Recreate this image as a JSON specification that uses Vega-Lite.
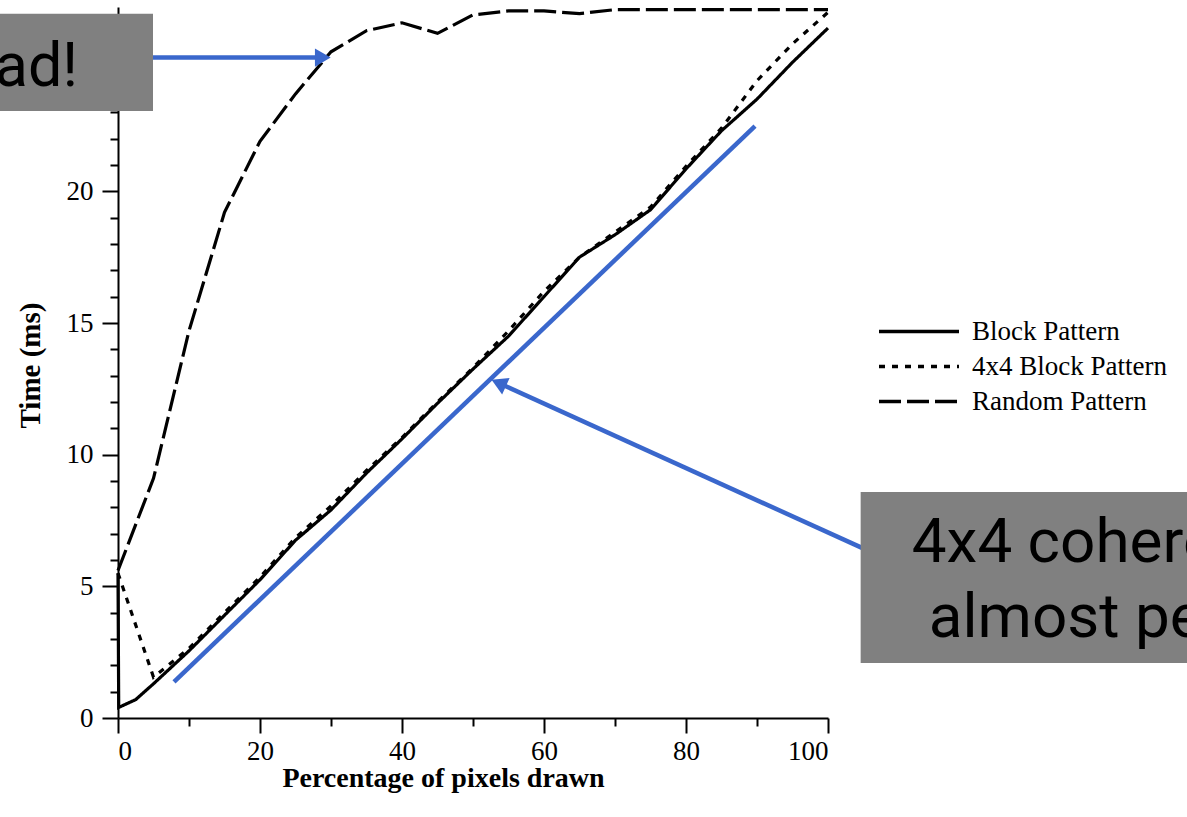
{
  "$schema": "https://vega.github.io/schema/vega-lite/v6.json",
  "width": 710,
  "height": 711,
  "autosize": {"type": "none"},
  "padding": {"left": 118, "top": 7, "right": 359, "bottom": 99},
  "background": "white",
  "config": {
    "view": {"stroke": null},
    "axis": {
      "domainColor": "black", "domainWidth": 2, "tickColor": "black", "tickWidth": 2,
      "labelFont": "Liberation Serif", "labelFontSize": 27, "labelColor": "black",
      "titleFont": "Liberation Serif", "titleFontSize": 28, "titleFontWeight": "bold", "titleColor": "black",
      "grid": false
    }
  },
  "datasets": {
    "curves": [
      {"series": "Block Pattern", "x": 0, "y": 5.5},
      {"series": "Block Pattern", "x": 0.1, "y": 0.4},
      {"series": "Block Pattern", "x": 2.5, "y": 0.7},
      {"series": "Block Pattern", "x": 5, "y": 1.3},
      {"series": "Block Pattern", "x": 10, "y": 2.55},
      {"series": "Block Pattern", "x": 15, "y": 3.9},
      {"series": "Block Pattern", "x": 20, "y": 5.25},
      {"series": "Block Pattern", "x": 25, "y": 6.75},
      {"series": "Block Pattern", "x": 30, "y": 7.9},
      {"series": "Block Pattern", "x": 35, "y": 9.3},
      {"series": "Block Pattern", "x": 40, "y": 10.6},
      {"series": "Block Pattern", "x": 45, "y": 11.95},
      {"series": "Block Pattern", "x": 50, "y": 13.25},
      {"series": "Block Pattern", "x": 55, "y": 14.5},
      {"series": "Block Pattern", "x": 60, "y": 16.0},
      {"series": "Block Pattern", "x": 65, "y": 17.5},
      {"series": "Block Pattern", "x": 70, "y": 18.35},
      {"series": "Block Pattern", "x": 75, "y": 19.3},
      {"series": "Block Pattern", "x": 80, "y": 20.85},
      {"series": "Block Pattern", "x": 85, "y": 22.3},
      {"series": "Block Pattern", "x": 90, "y": 23.5},
      {"series": "Block Pattern", "x": 95, "y": 24.9},
      {"series": "Block Pattern", "x": 100, "y": 26.2},
      {"series": "4x4 Block Pattern", "x": 0, "y": 5.5},
      {"series": "4x4 Block Pattern", "x": 5, "y": 1.55},
      {"series": "4x4 Block Pattern", "x": 10, "y": 2.65},
      {"series": "4x4 Block Pattern", "x": 15, "y": 4.0},
      {"series": "4x4 Block Pattern", "x": 20, "y": 5.35},
      {"series": "4x4 Block Pattern", "x": 25, "y": 6.85},
      {"series": "4x4 Block Pattern", "x": 30, "y": 8.05},
      {"series": "4x4 Block Pattern", "x": 35, "y": 9.4},
      {"series": "4x4 Block Pattern", "x": 40, "y": 10.65},
      {"series": "4x4 Block Pattern", "x": 45, "y": 12.0},
      {"series": "4x4 Block Pattern", "x": 50, "y": 13.3},
      {"series": "4x4 Block Pattern", "x": 55, "y": 14.7},
      {"series": "4x4 Block Pattern", "x": 60, "y": 16.2},
      {"series": "4x4 Block Pattern", "x": 65, "y": 17.5},
      {"series": "4x4 Block Pattern", "x": 70, "y": 18.45},
      {"series": "4x4 Block Pattern", "x": 75, "y": 19.4},
      {"series": "4x4 Block Pattern", "x": 80, "y": 20.95},
      {"series": "4x4 Block Pattern", "x": 85, "y": 22.4},
      {"series": "4x4 Block Pattern", "x": 90, "y": 24.2},
      {"series": "4x4 Block Pattern", "x": 95, "y": 25.6},
      {"series": "4x4 Block Pattern", "x": 100, "y": 26.8},
      {"series": "Random Pattern", "x": 0, "y": 5.6},
      {"series": "Random Pattern", "x": 5, "y": 9.1},
      {"series": "Random Pattern", "x": 10, "y": 14.7},
      {"series": "Random Pattern", "x": 15, "y": 19.2},
      {"series": "Random Pattern", "x": 20, "y": 21.9},
      {"series": "Random Pattern", "x": 25, "y": 23.7},
      {"series": "Random Pattern", "x": 30, "y": 25.3},
      {"series": "Random Pattern", "x": 35, "y": 26.1},
      {"series": "Random Pattern", "x": 40, "y": 26.4},
      {"series": "Random Pattern", "x": 45, "y": 26.0},
      {"series": "Random Pattern", "x": 50, "y": 26.7},
      {"series": "Random Pattern", "x": 55, "y": 26.85},
      {"series": "Random Pattern", "x": 60, "y": 26.85},
      {"series": "Random Pattern", "x": 65, "y": 26.75},
      {"series": "Random Pattern", "x": 70, "y": 26.9},
      {"series": "Random Pattern", "x": 75, "y": 26.9},
      {"series": "Random Pattern", "x": 80, "y": 26.9},
      {"series": "Random Pattern", "x": 85, "y": 26.9},
      {"series": "Random Pattern", "x": 90, "y": 26.9},
      {"series": "Random Pattern", "x": 95, "y": 26.9},
      {"series": "Random Pattern", "x": 100, "y": 26.9}
    ],
    "blue": [
      {"id": "fit", "x": 7.89, "y": 1.37},
      {"id": "fit", "x": 89.72, "y": 22.48},
      {"id": "arrow1", "x": 4.93, "y": 25.08},
      {"id": "arrow1", "x": 28.6, "y": 25.08},
      {"id": "arrow2", "x": 104.79, "y": 6.46},
      {"id": "arrow2", "x": 53.96, "y": 12.68}
    ],
    "boxes": [
      {"id": "left", "x": -20, "x2": 4.93, "y": 26.74, "y2": 23.05},
      {"id": "right", "x": 104.6, "x2": 160, "y": 8.58, "y2": 2.09}
    ],
    "leftText": [{"x": -5.63, "y": 24.0, "label": "ad!"}],
    "rightText": [
      {"x": 111.8, "y": 5.92, "label": "4x4 coherence"},
      {"x": 114.2, "y": 3.07, "label": "almost perfect"}
    ],
    "head1": [{"x": 28.48, "y": 25.08}],
    "head2": [{"x": 53.96, "y": 12.68}]
  },
  "resolve": {"axis": {"x": "independent", "y": "independent"}},
  "layer": [
    {
      "data": {"name": "curves"},
      "mark": {"type": "line", "color": "black", "strokeWidth": 3.2, "strokeCap": "butt"},
      "encoding": {
        "x": {
          "field": "x", "type": "quantitative",
          "scale": {"domain": [0, 100], "nice": false, "zero": false},
          "axis": {"orient": "bottom", "values": [0, 20, 40, 60, 80, 100], "tickSize": 15, "labelPadding": 5,
                   "title": "Percentage of pixels drawn", "titleX": 325, "titleY": 68, "titleBaseline": "alphabetic"}
        },
        "y": {
          "field": "y", "type": "quantitative",
          "scale": {"domain": [0, 27], "nice": false, "zero": false},
          "axis": {"orient": "left", "values": [0, 5, 10, 15, 20], "tickSize": 16, "labelPadding": 9,
                   "title": "Time (ms)", "titleFontSize": 29, "titleX": -79, "titleY": 358, "titleBaseline": "alphabetic", "titleAngle": 270}
        },
        "strokeDash": {
          "field": "series", "type": "nominal",
          "scale": {"domain": ["Block Pattern", "4x4 Block Pattern", "Random Pattern"],
                    "range": [[1, 0], [6, 7], [22, 6]]},
          "legend": {
            "orient": "none", "legendX": 759, "legendY": 308, "title": null, "padding": 0,
            "symbolType": "stroke", "symbolSize": 6400, "symbolStrokeWidth": 3.5, "symbolStrokeColor": "black",
            "labelFont": "Liberation Serif", "labelFontSize": 27, "labelColor": "black", "labelLimit": 400,
            "labelOffset": 11, "rowPadding": 2, "clipHeight": 33
          }
        }
      }
    },
    {
      "data": {"name": "blue"},
      "mark": {"type": "line", "color": "#3a67cc", "strokeWidth": 4.5, "strokeCap": "butt"},
      "encoding": {
        "x": {"field": "x", "type": "quantitative", "scale": {"domain": [0, 100], "nice": false, "zero": false},
              "axis": {"orient": "bottom", "values": [10, 30, 50, 70, 90], "tickSize": 8, "labels": false, "domain": false, "title": null}},
        "y": {"field": "y", "type": "quantitative", "scale": {"domain": [0, 27], "nice": false, "zero": false},
              "axis": {"orient": "left", "values": [1, 2, 3, 4, 6, 7, 8, 9, 11, 12, 13, 14, 16, 17, 18, 19, 21, 22, 23, 24, 25, 26], "tickSize": 8, "labels": false, "domain": false, "title": null}},
        "detail": {"field": "id"}
      }
    },
    {
      "data": {"name": "head1"},
      "mark": {"type": "point", "shape": "triangle", "angle": 90, "size": 330, "filled": true, "color": "#3a67cc", "opacity": 1},
      "encoding": {
        "x": {"field": "x", "type": "quantitative", "scale": {"domain": [0, 100], "nice": false, "zero": false}, "axis": null},
        "y": {"field": "y", "type": "quantitative", "scale": {"domain": [0, 27], "nice": false, "zero": false}, "axis": null}
      }
    },
    {
      "data": {"name": "head2"},
      "mark": {"type": "point", "shape": "triangle", "angle": 294.4, "size": 330, "filled": true, "color": "#3a67cc", "opacity": 1},
      "encoding": {
        "x": {"field": "x", "type": "quantitative", "scale": {"domain": [0, 100], "nice": false, "zero": false}, "axis": null},
        "y": {"field": "y", "type": "quantitative", "scale": {"domain": [0, 27], "nice": false, "zero": false}, "axis": null}
      }
    },
    {
      "data": {"name": "boxes"},
      "mark": {"type": "rect", "color": "#808080", "opacity": 1},
      "encoding": {
        "x": {"field": "x", "type": "quantitative", "scale": {"domain": [0, 100], "nice": false, "zero": false}, "axis": null},
        "x2": {"field": "x2"},
        "y": {"field": "y", "type": "quantitative", "scale": {"domain": [0, 27], "nice": false, "zero": false}, "axis": null},
        "y2": {"field": "y2"}
      }
    },
    {
      "data": {"name": "leftText"},
      "mark": {"type": "text", "font": "Roboto", "fontSize": 61, "color": "black", "align": "right", "baseline": "alphabetic"},
      "encoding": {
        "x": {"field": "x", "type": "quantitative", "scale": {"domain": [0, 100], "nice": false, "zero": false}, "axis": null},
        "y": {"field": "y", "type": "quantitative", "scale": {"domain": [0, 27], "nice": false, "zero": false}, "axis": null},
        "text": {"field": "label"}
      }
    },
    {
      "data": {"name": "rightText"},
      "mark": {"type": "text", "font": "Roboto", "fontSize": 62, "color": "black", "align": "left", "baseline": "alphabetic"},
      "encoding": {
        "x": {"field": "x", "type": "quantitative", "scale": {"domain": [0, 100], "nice": false, "zero": false}, "axis": null},
        "y": {"field": "y", "type": "quantitative", "scale": {"domain": [0, 27], "nice": false, "zero": false}, "axis": null},
        "text": {"field": "label"}
      }
    }
  ]
}
